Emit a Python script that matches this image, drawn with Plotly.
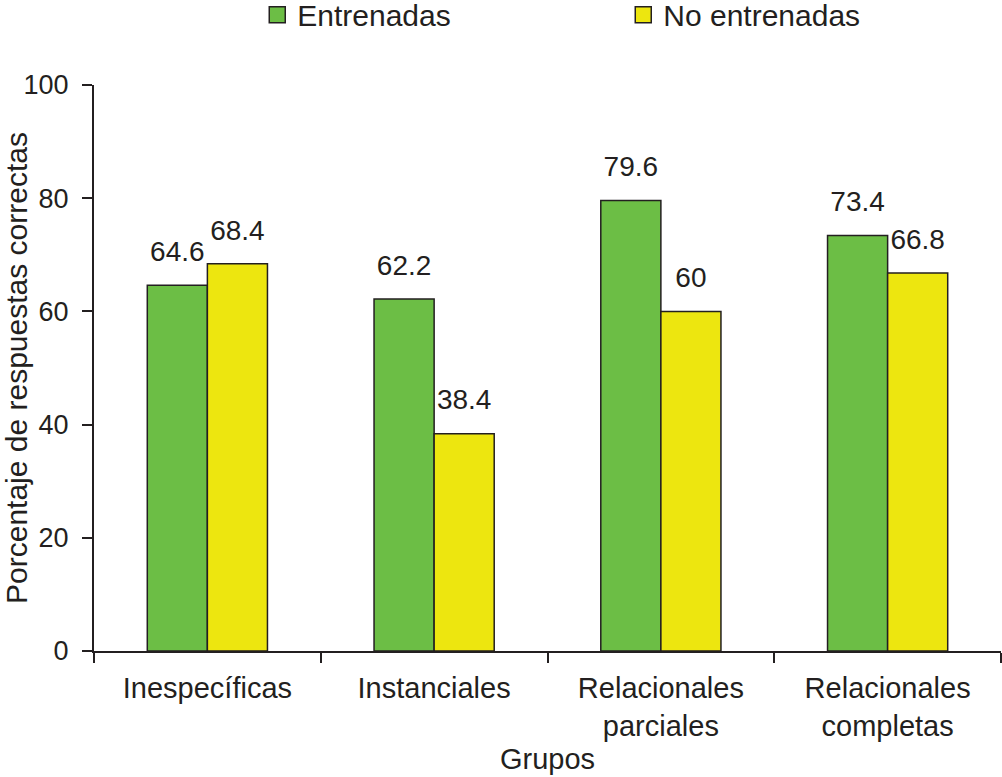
import plotly.graph_objects as go

# Data
grupos = ["Inespecíficas", "Instanciales", "Relacionales<br>parciales", "Relacionales<br>completas"]
entrenadas = [64.6, 62.2, 79.6, 73.4]
no_entrenadas = [68.4, 38.4, 60, 66.8]

verde = "#6cbe45"
amarillo = "#ede60f"
borde = "#231f20"
familia = "Liberation Sans, Arial, sans-serif"

def fuente(size):
    return dict(family=familia, size=size, color=borde)

fig = go.Figure()

fig.add_trace(go.Bar(x=grupos, y=entrenadas, name="Entrenadas", offsetgroup="e",
                     marker=dict(color=verde, line=dict(color=borde, width=1.5)),
                     showlegend=False))
fig.add_trace(go.Bar(x=grupos, y=no_entrenadas, name="No entrenadas", offsetgroup="n",
                     marker=dict(color=amarillo, line=dict(color=borde, width=1.5)),
                     showlegend=False))

# value labels: grouped scatter text, lifted a bit above the bars by an invisible marker
for nombre, valores, grupo in [("Entrenadas", entrenadas, "e"), ("No entrenadas", no_entrenadas, "n")]:
    fig.add_trace(go.Scatter(x=grupos, y=valores, mode="markers+text", offsetgroup=grupo,
                             text=[str(v) for v in valores], textposition="top center",
                             textfont=fuente(28), marker=dict(size=26, opacity=0),
                             cliponaxis=False, hoverinfo="skip", showlegend=False))

# legend entries with bigger square symbols
for nombre, color in [("Entrenadas", verde), ("No entrenadas", amarillo)]:
    fig.add_trace(go.Scatter(x=[None], y=[None], mode="markers", name=nombre,
                             marker=dict(symbol="square", size=16, color=color,
                                         line=dict(color=borde, width=1.5))))

fig.update_layout(
    width=1002, height=777,
    margin=dict(l=94, r=1, t=85, b=126),
    plot_bgcolor="white", paper_bgcolor="white",
    font=fuente(28),
    barmode="group", bargap=0.47, bargroupgap=0,
    scattermode="group", scattergap=0.47,
    legend=dict(orientation="h", x=0.18, xanchor="left", y=0.981, yanchor="middle",
                yref="container", entrywidth=321, entrywidthmode="pixels",
                font=fuente(30), bgcolor="rgba(0,0,0,0)"),
)

fig.update_xaxes(title=dict(text="Grupos", font=fuente(29), standoff=8),
                 showline=True, linecolor=borde, linewidth=2,
                 ticks="outside", tickson="boundaries", ticklen=10,
                 tickcolor=borde, tickwidth=2, tickfont=fuente(29),
                 ticklabelstandoff=10, showgrid=False)
fig.update_yaxes(title=dict(text="Porcentaje de respuestas correctas", font=fuente(30), standoff=0),
                 range=[0, 100], dtick=20, showline=True, linecolor=borde, linewidth=2,
                 ticks="outside", ticklen=10, tickcolor=borde, tickwidth=2,
                 tickfont=fuente(27), ticklabelstandoff=8,
                 showgrid=False, zeroline=False)

# the page has a default body margin; remove it so the figure fills the window
fig.write_html("out.html", config={"displayModeBar": False},
               post_script="document.body.style.margin='0';")
